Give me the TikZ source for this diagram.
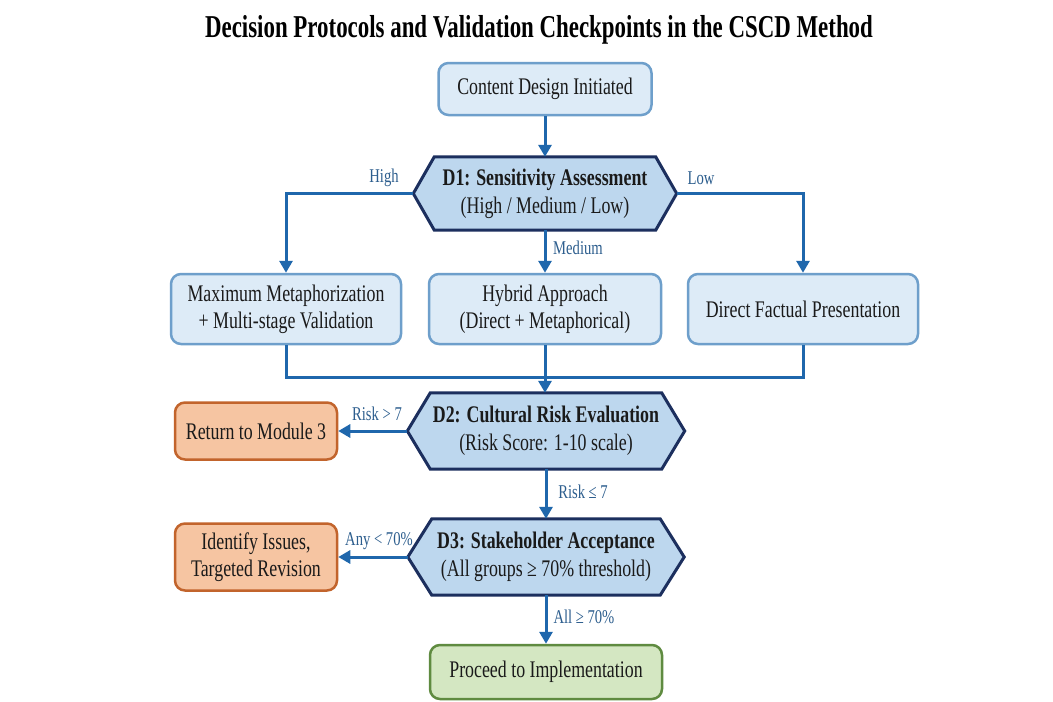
\documentclass[tikz,border=0pt]{standalone}
\usepackage{fontspec}
\setmainfont{Liberation Serif}[FakeStretch=0.75]
\newfontfamily\titlefont{Liberation Serif}[FakeStretch=0.72]
\usetikzlibrary{arrows.meta,backgrounds}
\definecolor{boxfill}{HTML}{DDEBF7}
\definecolor{boxline}{HTML}{6E9FCB}
\definecolor{hexfill}{HTML}{BDD7EE}
\definecolor{hexline}{HTML}{1C2F5E}
\definecolor{arrowc}{HTML}{1F67AC}
\definecolor{labelc}{HTML}{2D5E8E}
\definecolor{orfill}{HTML}{F6C5A2}
\definecolor{orline}{HTML}{C2642C}
\definecolor{grfill}{HTML}{D4E7C2}
\definecolor{grline}{HTML}{5F8B40}
\definecolor{txt}{HTML}{1A1A1A}
\begin{document}
\begin{tikzpicture}[x=1pt,y=-1pt,
 base/.style={rounded corners=10pt, line width=2.5pt, align=center, inner sep=0pt, text=txt, font=\fontsize{23.8}{27}\selectfont},
 bluebox/.style={base, draw=boxline, fill=boxfill},
 orbox/.style={base, draw=orline, fill=orfill},
 grbox/.style={base, draw=grline, fill=grfill},
 hexnode/.style={inner sep=0pt, align=center, text=txt, font=\fontsize{23.8}{28}\selectfont},
 hexshape/.style={draw=hexline, fill=hexfill, line width=3pt, line join=miter},
 conn/.style={draw=arrowc, line width=3pt},
 arr/.style={conn, -{Triangle[length=12pt,width=13pt]}},
 lbl/.style={text=labelc, font=\fontsize{19.5}{21}\selectfont, inner sep=0pt}
]
\useasboundingbox (0,0) rectangle (1053,702);

\node[inner sep=0pt] (title) at (539,30) {\titlefont\bfseries\fontsize{31.8}{36}\selectfont Decision Protocols and Validation Checkpoints in the CSCD Method};

\node[bluebox, minimum width=213pt, minimum height=52pt] (start) at (545,89) {Content Design Initiated};
\node[hexnode, minimum width=263pt, minimum height=73pt] (d1) at (545,193.5) {\textbf{D1: Sensitivity Assessment}\\(High / Medium / Low)};
\node[bluebox, minimum width=230pt, minimum height=70pt] (b1) at (286,309) {Maximum Metaphorization\\+ Multi-stage Validation};
\node[bluebox, minimum width=232pt, minimum height=70pt] (b2) at (545,309) {Hybrid Approach\\(Direct + Metaphorical)};
\node[bluebox, minimum width=230pt, minimum height=70pt] (b3) at (803,309) {Direct Factual Presentation};
\node[hexnode, minimum width=277pt, minimum height=76pt] (d2) at (546,431) {\textbf{D2: Cultural Risk Evaluation}\\(Risk Score: 1-10 scale)};
\node[orbox, minimum width=162pt, minimum height=57pt] (ret) at (256,431) {Return to Module 3};
\node[hexnode, minimum width=276pt, minimum height=76pt] (d3) at (546,557) {\textbf{D3: Stakeholder Acceptance}\\(All groups ≥ 70\% threshold)};
\node[orbox, minimum width=162pt, minimum height=67pt] (iss) at (256,557) {Identify Issues,\\Targeted Revision};
\node[grbox, minimum width=232pt, minimum height=54pt] (impl) at (546,672) {Proceed to Implementation};

\begin{scope}[on background layer]
\fill[white] (0,0) rectangle (1053,702);
\foreach \n/\o in {d1/21,d2/23,d3/24}
  \draw[hexshape] (\n.west) -- ([xshift=\o pt]\n.north west) -- ([xshift=-\o pt]\n.north east) -- (\n.east) -- ([xshift=-\o pt]\n.south east) -- ([xshift=\o pt]\n.south west) -- cycle;
\end{scope}

\draw[arr] (start.south) -- (d1.north);
\draw[arr] (d1.west) -| (b1.north);
\draw[arr] (d1.east) -| (b3.north);
\draw[arr] (d1.south) -- (b2.north);

\coordinate (mj) at (545,377);
\draw[conn] (b1.south) |- (mj);
\draw[conn] (b3.south) |- (mj);
\draw[conn] (b2.south) -- (mj);
\draw[arr] (mj) -- (d2.north -| mj);

\draw[arr] (d2.west) -- (ret.east);
\draw[arr] (d2.south) -- (d3.north);
\draw[arr] (d3.west) -- (iss.east);
\draw[arr] (d3.south) -- (impl.north);

\node[lbl] (lh) at (384,178) {High};
\node[lbl] (ll) at (701,178) {Low};
\node[lbl] (lm) at (578,248) {Medium};
\node[lbl] (lr) at (377,414) {Risk > 7};
\node[lbl] (lr2) at (583,492) {Risk ≤ 7};
\node[lbl] (la) at (379,541) {Any < 70\%};
\node[lbl] (lall) at (584,617) {All ≥ 70\%};
\end{tikzpicture}
\end{document}
